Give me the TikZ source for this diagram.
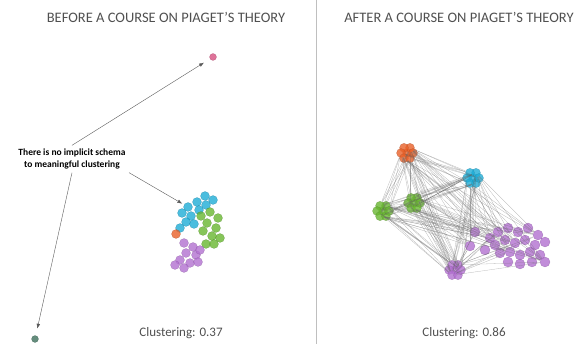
\documentclass[tikz,border=0pt]{standalone}
\usepackage{fontspec}
\setmainfont{Carlito}
\usepackage{tikz}
\usetikzlibrary{positioning,arrows.meta,calc}

\definecolor{piaorange}{RGB}{232,96,40}
\definecolor{piacyan}{RGB}{30,172,214}
\definecolor{piagreen}{RGB}{104,182,48}
\definecolor{piapurple}{RGB}{178,112,208}
\definecolor{piapink}{RGB}{214,80,128}
\definecolor{piateal}{RGB}{62,112,92}
\definecolor{piatext}{RGB}{80,80,80}

\begin{document}
\begin{tikzpicture}[
    x=1pt, y=-1pt,
    >=Latex,
    dot/.style={circle, inner sep=0pt, minimum size=9pt, fill=#1, fill opacity=0.8, draw=#1!70!black, draw opacity=0.5, line width=0.3pt},
    web/.style={draw=gray!80!black, draw opacity=0.45, line width=0.3pt},
    heading/.style={font=\fontsize{14.5}{16}\selectfont, text=piatext},
    score/.style={font=\fontsize{13}{15}\selectfont, text=piatext},
    pointer/.style={->, draw=gray!70!black, line width=0.4pt, shorten >=7pt}
]
\useasboundingbox (0,0) rectangle (580,344);

% Headings and divider
\node[heading] (tbefore) at (166,17) {BEFORE A COURSE ON PIAGET'S THEORY};
\node[heading] (tafter) at (459,17) {AFTER A COURSE ON PIAGET'S THEORY};
\draw[gray!50, line width=0.8pt] (316,0) -- (316,344);

% Left: scattered points
\node[dot=piapink, minimum size=7pt] (pink) at (213,57) {};
\node[dot=piateal, minimum size=7pt] (teal) at (35,339) {};

\foreach \x/\y [count=\k] in {205/196,213/200,197/202,188/207,182/213,191/216,199/210,186/222,180/228,206/205,194/224}
    \node[dot=piacyan] (lc\k) at (\x,\y) {};
\foreach \x/\y [count=\k] in {201/216,210/212,218/218,207/223,216/228,203/231,212/236,220/238,206/244,214/244}
    \node[dot=piagreen] (lg\k) at (\x,\y) {};
\foreach \x/\y [count=\k] in {184/243,193/247,186/253,196/255,180/260,190/263,200/250,184/268,175/265,198/262}
    \node[dot=piapurple] (lp\k) at (\x,\y) {};
\node[dot=piaorange] (lo1) at (176,234) {};

% Note with pointers
\node[font=\bfseries\fontsize{9.5}{12}\selectfont, align=center] (note) at (72,159)
    {There is no implicit schema\\to meaningful clustering};
\draw[pointer] (note.north) -- (pink);
\draw[pointer, shorten >=2pt] (note.south east) -- (lc4);
\draw[pointer] (note.south) -- (teal);

\node[score] (sbefore) at (181,333) {Clustering: 0.37};

% Right: network
\foreach \g/\c/\cx/\cy in {ro/piaorange/407/153, rc/piacyan/473/178, rg/piagreen/383/211, rh/piagreen/414/203, rq/piapurple/455/270} {
    \node[dot=\c] (\g0) at (\cx,\cy) {};
    \foreach \k in {1,...,6}
        \node[dot=\c] (\g\k) at ($(\cx,\cy)+(\k*60:6pt)$) {};
}
\foreach \x/\y [count=\k] in {498/232,508/228,518/232,528/228,538/235,545/242,535/245,525/240,515/243,505/240,495/245,500/253,510/252,520/255,530/252,540/255,545/262,532/262,520/264,508/262,490/238,485/250,475/232,470/246}
    \node[dot=piapurple, minimum size=10pt] (rp\k) at (\x,\y) {};

% Web of links
\foreach \a/\b in {ro/rc,ro/rg,ro/rh,ro/rq,rc/rg,rc/rh,rc/rq,rg/rh,rg/rq,rh/rq}
    \foreach \i in {1,3,5}
        \foreach \j in {2,4,6}
            \draw[web] (\a\i) -- (\b\j);
\foreach \a in {ro,rc,rg,rh,rq}
    \foreach \i in {1,4}
        \foreach \j in {1,5,9,13,17,21,23,24}
            \draw[web] (\a\i) -- (rp\j);

\node[score] (safter) at (464,333) {Clustering: 0.86};
\end{tikzpicture}
\end{document}
